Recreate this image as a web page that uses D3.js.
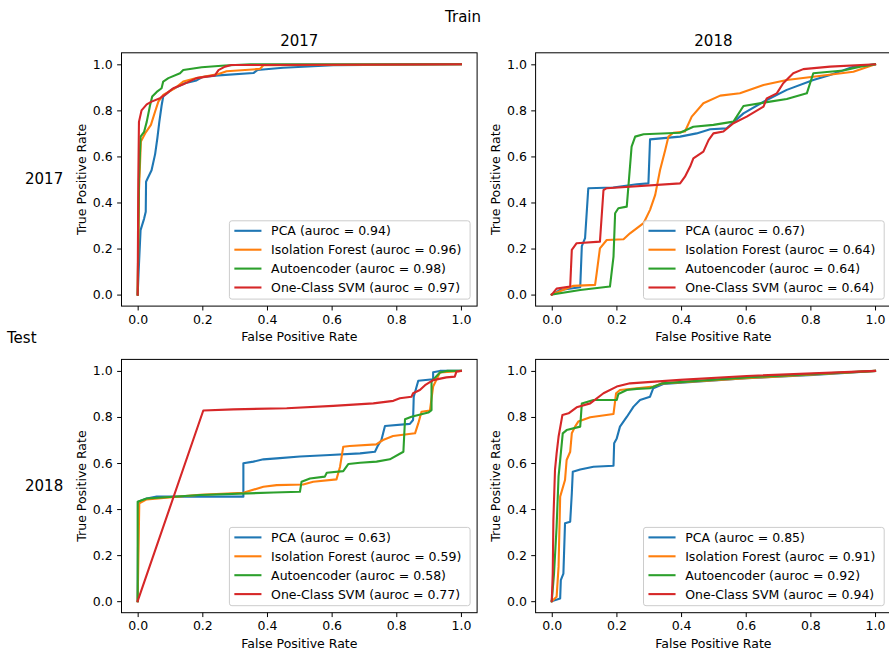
<!DOCTYPE html>
<html>
<head>
<meta charset="utf-8">
<script src="https://cdn.jsdelivr.net/npm/d3@7"></script>
<style>
  html, body { margin: 0; padding: 0; background: #fff; }
  svg { display: block; font-family: "DejaVu Sans", sans-serif; }
</style>
</head>
<body>
<svg id="chart" width="889" height="652"></svg>
<script>
// ---------------- DATA ----------------
const methods = ["PCA", "Isolation Forest", "Autoencoder", "One-Class SVM"];
const colors = ["#1f77b4", "#ff7f0e", "#2ca02c", "#d62728"];
const tickValues = [0, 0.2, 0.4, 0.6, 0.8, 1.0];
const colTitles = ["2017", "2018"];
const rowLabels = ["2017", "2018"];
const superTitle = "Train";
const sideTitle = "Test";

// AUROC values per panel (train-year / test-year)
const auroc_17_17 = [0.94, 0.96, 0.98, 0.97];
const auroc_17_18 = [0.67, 0.64, 0.64, 0.64];
const auroc_18_17 = [0.63, 0.59, 0.58, 0.77];
const auroc_18_18 = [0.85, 0.91, 0.92, 0.94];

// Top-left panel ROC curves [fpr, tpr]
const tl_pca = [[0,0],[0.003,0.1],[0.009,0.28],[0.02,0.33],[0.025,0.36],[0.026,0.49],[0.031,0.505],[0.043,0.54],[0.054,0.61],[0.061,0.68],[0.067,0.75],[0.074,0.82],[0.079,0.86],[0.105,0.89],[0.146,0.918],[0.182,0.93],[0.2,0.945],[0.25,0.952],[0.358,0.962],[0.37,0.975],[0.45,0.985],[0.605,0.996],[1,1]];
const tl_if = [[0,0],[0.004,0.45],[0.01,0.665],[0.023,0.70],[0.041,0.737],[0.054,0.795],[0.064,0.838],[0.079,0.867],[0.115,0.896],[0.141,0.925],[0.182,0.94],[0.25,0.958],[0.275,0.97],[0.378,0.98],[0.389,0.996],[1,1]];
const tl_ae = [[0,0],[0.004,0.5],[0.009,0.686],[0.02,0.707],[0.028,0.75],[0.038,0.82],[0.045,0.86],[0.059,0.88],[0.074,0.896],[0.079,0.925],[0.095,0.94],[0.131,0.961],[0.141,0.975],[0.198,0.987],[0.27,0.995],[0.35,1],[1,1]];
const tl_svm = [[0,0],[0.002,0.5],[0.004,0.75],[0.012,0.80],[0.028,0.826],[0.043,0.838],[0.069,0.853],[0.084,0.867],[0.11,0.896],[0.141,0.913],[0.182,0.94],[0.239,0.952],[0.25,0.975],[0.27,0.99],[0.29,0.997],[1,1]];

// Top-right panel
const tr_pca = [[0,0],[0.026,0.02],[0.088,0.032],[0.093,0.21],[0.103,0.245],[0.113,0.462],[0.19,0.465],[0.263,0.479],[0.299,0.483],[0.304,0.674],[0.397,0.686],[0.448,0.70],[0.49,0.718],[0.541,0.722],[0.593,0.787],[0.665,0.845],[0.727,0.889],[0.809,0.932],[0.861,0.954],[0.933,0.99],[1,1]];
const tr_if = [[0,0],[0.067,0.038],[0.134,0.042],[0.139,0.093],[0.149,0.201],[0.17,0.237],[0.222,0.24],[0.242,0.266],[0.284,0.31],[0.304,0.368],[0.32,0.433],[0.335,0.541],[0.351,0.628],[0.361,0.686],[0.376,0.703],[0.412,0.708],[0.433,0.773],[0.469,0.831],[0.521,0.864],[0.582,0.874],[0.655,0.91],[0.727,0.932],[0.809,0.946],[0.933,0.968],[1,1]];
const tr_ae = [[0,0],[0.088,0.02],[0.18,0.035],[0.191,0.165],[0.196,0.353],[0.206,0.375],[0.232,0.382],[0.237,0.469],[0.247,0.643],[0.258,0.686],[0.284,0.696],[0.397,0.703],[0.438,0.729],[0.5,0.737],[0.562,0.751],[0.593,0.819],[0.675,0.838],[0.727,0.849],[0.789,0.874],[0.809,0.961],[0.902,0.973],[0.954,0.99],[1,1]];
const tr_svm = [[0,0],[0.015,0.026],[0.057,0.035],[0.062,0.194],[0.077,0.223],[0.149,0.23],[0.16,0.454],[0.17,0.462],[0.397,0.483],[0.412,0.512],[0.428,0.556],[0.438,0.592],[0.469,0.621],[0.485,0.671],[0.5,0.70],[0.531,0.708],[0.562,0.744],[0.603,0.773],[0.655,0.816],[0.665,0.852],[0.696,0.874],[0.716,0.918],[0.747,0.961],[0.778,0.979],[0.861,0.99],[1,1]];

// Bottom-left panel
const bl_pca = [[0,0],[0.002,0.432],[0.028,0.446],[0.059,0.454],[0.327,0.454],[0.327,0.599],[0.358,0.606],[0.389,0.616],[0.43,0.62],[0.502,0.628],[0.595,0.635],[0.688,0.642],[0.734,0.649],[0.744,0.678],[0.754,0.70],[0.765,0.761],[0.842,0.77],[0.852,0.787],[0.854,0.888],[0.868,0.957],[0.914,0.964],[0.914,0.994],[0.935,1],[1,1]];
const bl_if = [[0,0],[0.005,0.425],[0.028,0.442],[0.193,0.462],[0.327,0.471],[0.389,0.497],[0.43,0.504],[0.512,0.507],[0.543,0.519],[0.615,0.529],[0.626,0.584],[0.636,0.671],[0.656,0.674],[0.738,0.681],[0.759,0.70],[0.79,0.717],[0.858,0.729],[0.868,0.772],[0.878,0.823],[0.904,0.828],[0.914,0.932],[0.935,0.993],[1,1]];
const bl_ae = [[0,0],[0,0.432],[0.028,0.446],[0.193,0.461],[0.42,0.472],[0.502,0.475],[0.507,0.519],[0.533,0.533],[0.579,0.541],[0.585,0.558],[0.636,0.565],[0.652,0.596],[0.688,0.601],[0.739,0.606],[0.78,0.616],[0.822,0.649],[0.827,0.79],[0.847,0.801],[0.899,0.819],[0.909,0.83],[0.909,0.954],[0.935,0.993],[0.956,1],[1,1]];
const bl_svm = [[0,0],[0.203,0.828],[0.296,0.833],[0.461,0.838],[0.605,0.848],[0.729,0.859],[0.791,0.87],[0.811,0.881],[0.847,0.888],[0.852,0.903],[0.873,0.917],[0.889,0.938],[0.914,0.96],[0.955,0.972],[0.981,0.975],[0.986,0.997],[1,1]];

// Bottom-right panel
const br_pca = [[0,0],[0.026,0.012],[0.028,0.091],[0.036,0.12],[0.041,0.338],[0.057,0.345],[0.062,0.468],[0.065,0.562],[0.088,0.572],[0.129,0.584],[0.191,0.588],[0.193,0.686],[0.201,0.707],[0.211,0.758],[0.232,0.80],[0.253,0.845],[0.273,0.874],[0.304,0.888],[0.314,0.925],[0.345,0.943],[0.603,0.968],[0.809,0.983],[1,1]];
const br_if = [[0,0],[0.015,0.019],[0.021,0.149],[0.026,0.454],[0.041,0.526],[0.046,0.613],[0.057,0.649],[0.062,0.729],[0.072,0.758],[0.082,0.78],[0.119,0.799],[0.191,0.813],[0.199,0.903],[0.211,0.917],[0.263,0.925],[0.314,0.932],[0.345,0.946],[0.603,0.968],[1,1]];
const br_ae = [[0,0],[0.007,0.12],[0.015,0.323],[0.021,0.541],[0.026,0.613],[0.034,0.729],[0.046,0.743],[0.088,0.758],[0.093,0.859],[0.129,0.874],[0.201,0.874],[0.206,0.9],[0.232,0.917],[0.263,0.922],[0.304,0.925],[0.34,0.946],[0.603,0.972],[1,1]];
const br_svm = [[0,0],[0.003,0.12],[0.005,0.352],[0.01,0.57],[0.015,0.642],[0.021,0.714],[0.033,0.809],[0.052,0.816],[0.077,0.842],[0.119,0.859],[0.16,0.903],[0.201,0.932],[0.242,0.946],[0.397,0.961],[0.603,0.978],[1,1]];

// ---------------- LAYOUT ----------------
const svg = d3.select("#chart");
const FS = 12.5, TFS = 15, LWIDTH = 2.1;
const AW = 355.6, AH = 253.3;
const panels = [
  { left: 121.5, top: 52.8, curves: [tl_pca, tl_if, tl_ae, tl_svm], auroc: auroc_17_17, title: colTitles[0] },
  { left: 535.6, top: 52.8, curves: [tr_pca, tr_if, tr_ae, tr_svm], auroc: auroc_17_18, title: colTitles[1] },
  { left: 121.5, top: 359.4, curves: [bl_pca, bl_if, bl_ae, bl_svm], auroc: auroc_18_17, title: null },
  { left: 535.6, top: 359.4, curves: [br_pca, br_if, br_ae, br_svm], auroc: auroc_18_18, title: null }
];

panels.forEach((p, pi) => {
  const x = d3.scaleLinear().domain([-0.05, 1.05]).range([p.left, p.left + AW]);
  const y = d3.scaleLinear().domain([-0.05, 1.05]).range([p.top + AH, p.top]);
  const g = svg.append("g");
  const clipId = "clip" + pi;
  g.append("clipPath").attr("id", clipId).append("rect")
    .attr("x", p.left).attr("y", p.top).attr("width", AW).attr("height", AH);

  // curves
  const line = d3.line().x(d => x(d[0])).y(d => y(d[1]));
  const cg = g.append("g").attr("clip-path", `url(#${clipId})`);
  p.curves.forEach((c, i) => {
    cg.append("path").datum(c).attr("d", line)
      .attr("fill", "none").attr("stroke", colors[i]).attr("stroke-width", LWIDTH)
      .attr("stroke-linejoin", "round").attr("stroke-linecap", "square");
  });

  // axes
  const xa = g.append("g").attr("transform", `translate(0,${p.top + AH})`)
    .call(d3.axisBottom(x).tickValues(tickValues).tickFormat(d3.format(".1f"))
      .tickSize(4.375).tickPadding(4.375).tickSizeOuter(0));
  const ya = g.append("g").attr("transform", `translate(${p.left},0)`)
    .call(d3.axisLeft(y).tickValues(tickValues).tickFormat(d3.format(".1f"))
      .tickSize(4.375).tickPadding(4.375).tickSizeOuter(0));
  [xa, ya].forEach(a => {
    a.select(".domain").remove();
    a.selectAll("line").attr("stroke", "#000").attr("stroke-width", 1);
    a.selectAll("text").attr("font-size", FS).attr("fill", "#000")
      .attr("font-family", "DejaVu Sans, sans-serif");
  });

  // frame
  g.append("rect").attr("x", p.left).attr("y", p.top).attr("width", AW).attr("height", AH)
    .attr("fill", "none").attr("stroke", "#000").attr("stroke-width", 1);

  // axis labels
  g.append("text").attr("x", p.left + AW / 2).attr("y", p.top + AH + 35)
    .attr("text-anchor", "middle").attr("font-size", FS).text("False Positive Rate");
  g.append("text").attr("transform", `translate(${p.left - 35.5},${p.top + AH / 2}) rotate(-90)`)
    .attr("text-anchor", "middle").attr("font-size", FS).text("True Positive Rate");

  if (p.title) {
    g.append("text").attr("x", p.left + AW / 2).attr("y", p.top - 6.5)
      .attr("text-anchor", "middle").attr("font-size", TFS).text(p.title);
  }

  // legend
  const LW = 240.7, LH = 78.3;
  const lx = p.left + AW - 7 - LW, ly = p.top + AH - 7 - LH;
  const lg = g.append("g");
  lg.append("rect").attr("x", lx).attr("y", ly).attr("width", LW).attr("height", LH)
    .attr("rx", 2.5).attr("fill", "#fff").attr("fill-opacity", 0.8)
    .attr("stroke", "#cccccc").attr("stroke-width", 1);
  methods.forEach((m, i) => {
    const cy = ly + 10 + i * 18.9;
    lg.append("line").attr("x1", lx + 6).attr("x2", lx + 31).attr("y1", cy).attr("y2", cy)
      .attr("stroke", colors[i]).attr("stroke-width", LWIDTH).attr("stroke-linecap", "square");
    lg.append("text").attr("x", lx + 41.7).attr("y", cy).attr("dy", "0.36em")
      .attr("font-size", FS).text(`${m} (auroc = ${p.auroc[i].toFixed(2)})`);
  });
});

// figure-level labels
svg.append("text").attr("x", 463).attr("y", 21.5).attr("text-anchor", "middle")
  .attr("font-size", TFS).text(superTitle);
svg.append("text").attr("x", 7).attr("y", 343).attr("font-size", TFS).text(sideTitle);
svg.append("text").attr("x", 25).attr("y", 184).attr("font-size", TFS).text(rowLabels[0]);
svg.append("text").attr("x", 25).attr("y", 490.5).attr("font-size", TFS).text(rowLabels[1]);
</script>
</body>
</html>
